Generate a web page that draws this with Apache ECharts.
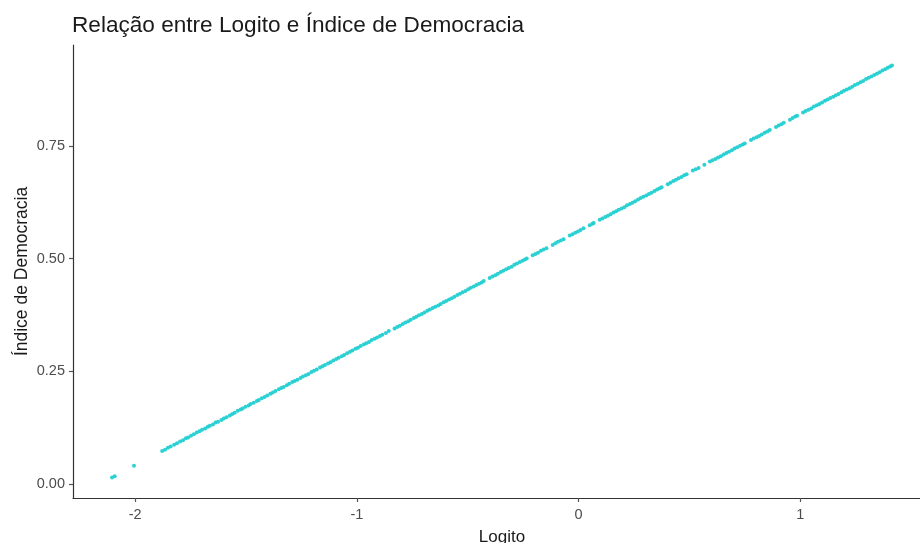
<!DOCTYPE html>
<html>
<head>
<meta charset="utf-8">
<script src="https://cdn.jsdelivr.net/npm/echarts@6/dist/echarts.min.js"></script>
<style>
  html, body { margin: 0; padding: 0; background: #ffffff; }
  #chart { width: 920px; height: 543px; }
</style>
</head>
<body>
<div id="chart"></div>
<script>
// Logit of each observation (x)
const logito = [
  -2.104, -2.092,
  -2.005,
  -1.878, -1.865, -1.852, -1.840,
  -1.824, -1.811, -1.797, -1.784, -1.771,
  -1.761, -1.748, -1.735, -1.722, -1.710, -1.698,
  -1.684, -1.672, -1.663, -1.649, -1.637, -1.626, -1.611, -1.600, -1.588, -1.573,
  -1.562, -1.551, -1.537, -1.524, -1.515, -1.502, -1.488, -1.479, -1.465, -1.451,
  -1.442, -1.429, -1.416, -1.404, -1.390, -1.379, -1.367, -1.352, -1.341, -1.330,
  -1.316, -1.305, -1.291, -1.280, -1.268, -1.254, -1.243, -1.230, -1.218, -1.205,
  -1.193, -1.181, -1.166, -1.155, -1.144, -1.130, -1.119, -1.106, -1.093, -1.082,
  -1.068, -1.057, -1.044, -1.031, -1.020, -1.006, -0.995, -0.983, -0.969, -0.958,
  -0.945, -0.933, -0.920, -0.909, -0.896, -0.885, -0.869, -0.856,
  -0.830, -0.818, -0.806, -0.793, -0.781, -0.768, -0.757, -0.743, -0.732, -0.720,
  -0.707, -0.695, -0.682, -0.671, -0.658, -0.646, -0.633, -0.622, -0.609, -0.597,
  -0.584, -0.572, -0.560, -0.547, -0.535, -0.523, -0.510, -0.498, -0.486, -0.473,
  -0.461, -0.449, -0.437, -0.428,
  -0.401, -0.389, -0.376, -0.364, -0.351, -0.340, -0.327, -0.315, -0.302, -0.290,
  -0.278, -0.265, -0.253, -0.242, -0.234,
  -0.207, -0.195, -0.183, -0.170, -0.158, -0.145,
  -0.117, -0.105, -0.093, -0.080, -0.068,
  -0.040, -0.028, -0.015, -0.003, 0.009, 0.022,
  0.050, 0.062, 0.068,
  0.095, 0.107, 0.120, 0.132, 0.144, 0.157, 0.169, 0.181, 0.194, 0.206,
  0.218, 0.231, 0.243, 0.255, 0.268, 0.280, 0.292, 0.305, 0.317, 0.329,
  0.342, 0.354, 0.366, 0.374,
  0.402, 0.414, 0.427, 0.439, 0.451, 0.464, 0.476, 0.487,
  0.515, 0.528, 0.541,
  0.567,
  0.592, 0.604, 0.617, 0.629, 0.641, 0.654, 0.666, 0.678, 0.691, 0.703,
  0.715, 0.728, 0.740, 0.749,
  0.777, 0.789, 0.802, 0.814, 0.826, 0.839, 0.851, 0.862,
  0.890, 0.902, 0.914, 0.925,
  0.953, 0.965, 0.977, 0.985,
  1.012, 1.024, 1.037, 1.049, 1.061, 1.074, 1.086, 1.098, 1.111, 1.123,
  1.135, 1.148, 1.160, 1.172, 1.185, 1.197, 1.209, 1.222, 1.234, 1.246,
  1.259, 1.271, 1.283, 1.296, 1.308, 1.320, 1.333, 1.345, 1.357, 1.370,
  1.382, 1.394, 1.405, 1.413
];

// Democracy index of each observation (y)
const indiceDemocracia = [
  0.014, 0.017,
  0.040,
  0.073, 0.076, 0.080, 0.083,
  0.087, 0.090, 0.094, 0.097, 0.101,
  0.103, 0.107, 0.110, 0.114, 0.117, 0.120,
  0.123, 0.127, 0.129, 0.132, 0.136, 0.138, 0.142, 0.145, 0.148, 0.152,
  0.155, 0.158, 0.162, 0.165, 0.167, 0.171, 0.174, 0.177, 0.180, 0.184,
  0.186, 0.190, 0.193, 0.196, 0.200, 0.203, 0.206, 0.210, 0.213, 0.215,
  0.219, 0.222, 0.226, 0.228, 0.231, 0.235, 0.238, 0.241, 0.244, 0.248,
  0.251, 0.254, 0.258, 0.261, 0.264, 0.267, 0.270, 0.274, 0.277, 0.280,
  0.283, 0.286, 0.290, 0.293, 0.296, 0.300, 0.302, 0.306, 0.309, 0.312,
  0.315, 0.319, 0.322, 0.325, 0.328, 0.331, 0.335, 0.339,
  0.345, 0.348, 0.351, 0.355, 0.358, 0.361, 0.364, 0.368, 0.371, 0.374,
  0.377, 0.380, 0.384, 0.387, 0.390, 0.393, 0.396, 0.399, 0.403, 0.406,
  0.409, 0.412, 0.415, 0.419, 0.422, 0.425, 0.428, 0.432, 0.435, 0.438,
  0.441, 0.444, 0.447, 0.450,
  0.457, 0.460, 0.463, 0.466, 0.470, 0.473, 0.476, 0.479, 0.482, 0.486,
  0.489, 0.492, 0.495, 0.498, 0.500,
  0.507, 0.510, 0.513, 0.517, 0.520, 0.523,
  0.530, 0.534, 0.537, 0.540, 0.543,
  0.551, 0.554, 0.557, 0.560, 0.563, 0.567,
  0.574, 0.577, 0.579,
  0.586, 0.589, 0.592, 0.595, 0.598, 0.602, 0.605, 0.608, 0.611, 0.614,
  0.618, 0.621, 0.624, 0.627, 0.631, 0.634, 0.637, 0.640, 0.643, 0.646,
  0.650, 0.653, 0.656, 0.658,
  0.665, 0.668, 0.672, 0.675, 0.678, 0.681, 0.685, 0.687,
  0.695, 0.698, 0.701,
  0.708,
  0.715, 0.718, 0.721, 0.724, 0.727, 0.731, 0.734, 0.737, 0.740, 0.744,
  0.747, 0.750, 0.753, 0.755,
  0.763, 0.766, 0.769, 0.772, 0.775, 0.779, 0.782, 0.785,
  0.792, 0.795, 0.798, 0.801,
  0.808, 0.812, 0.815, 0.817,
  0.824, 0.827, 0.830, 0.833, 0.837, 0.840, 0.843, 0.846, 0.850, 0.853,
  0.856, 0.859, 0.862, 0.865, 0.869, 0.872, 0.875, 0.878, 0.881, 0.885,
  0.888, 0.891, 0.894, 0.898, 0.901, 0.904, 0.907, 0.910, 0.913, 0.917,
  0.920, 0.923, 0.926, 0.928
];

// Tick positions shown on each axis
const xTicks = [-2, -1, 0, 1];
const yTicks = [0, 0.25, 0.5, 0.75];

const points = logito.map((x, i) => [x, indiceDemocracia[i]]);

const FONT = '"Liberation Sans", Arial, sans-serif';
const chart = echarts.init(document.getElementById('chart'), null, { renderer: 'canvas' });

chart.setOption({
  animation: false,
  backgroundColor: '#ffffff',
  title: {
    text: 'Relação entre Logito e Índice de Democracia',
    left: 72,
    top: 14,
    padding: 0,
    textStyle: { fontFamily: FONT, fontSize: 22.6, fontWeight: 'normal', color: '#1a1a1a' }
  },
  grid: {
    left: 73,
    right: -11,
    top: 45,
    bottom: 45,
    outerBoundsMode: 'none'
  },
  xAxis: {
    type: 'value',
    min: -2.28,
    max: 1.589,
    name: 'Logito',
    nameLocation: 'middle',
    nameGap: 31,
    nameMoveOverlap: false,
    nameTextStyle: { fontFamily: FONT, fontSize: 17, color: '#1a1a1a' },
    splitLine: { show: false },
    axisLine: { show: true, onZero: false, lineStyle: { color: '#333333', width: 1.2 } },
    axisTick: { show: true, length: 4, customValues: xTicks, lineStyle: { color: '#555555', width: 1.2 } },
    axisLabel: {
      customValues: xTicks,
      margin: 9,
      fontFamily: FONT,
      fontSize: 14.5,
      color: '#4d4d4d',
      formatter: v => String(v)
    }
  },
  yAxis: {
    type: 'value',
    min: -0.0313,
    max: 0.9737,
    name: 'Índice de Democracia',
    nameLocation: 'middle',
    nameRotate: 90,
    nameGap: 42,
    nameMoveOverlap: false,
    nameTextStyle: { fontFamily: FONT, fontSize: 17.5, color: '#1a1a1a' },
    splitLine: { show: false },
    axisLine: { show: true, onZero: false, lineStyle: { color: '#333333', width: 1.2 } },
    axisTick: { show: true, length: 4, customValues: yTicks, lineStyle: { color: '#555555', width: 1.2 } },
    axisLabel: {
      customValues: yTicks,
      margin: 8,
      fontFamily: FONT,
      fontSize: 14.5,
      color: '#4d4d4d',
      formatter: v => v.toFixed(2)
    }
  },
  series: [{
    type: 'scatter',
    data: points,
    symbol: 'circle',
    symbolSize: 4,
    silent: true,
    itemStyle: { color: '#22cfd1', opacity: 0.95 }
  }]
});
</script>
</body>
</html>
